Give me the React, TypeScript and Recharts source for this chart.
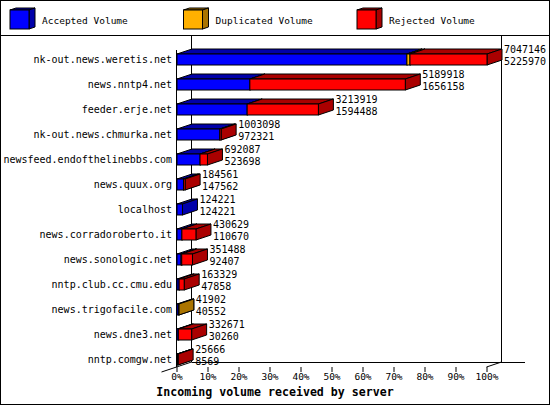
import { BarChart, Bar, XAxis, YAxis, Legend, LabelList } from "recharts";

const SERVERS = [
  "nk-out.news.weretis.net",
  "news.nntp4.net",
  "feeder.erje.net",
  "nk-out.news.chmurka.net",
  "newsfeed.endofthelinebbs.com",
  "news.quux.org",
  "localhost",
  "news.corradoroberto.it",
  "news.sonologic.net",
  "nntp.club.cc.cmu.edu",
  "news.trigofacile.com",
  "news.dne3.net",
  "nntp.comgw.net",
];
const TOTAL = [7047146, 5189918, 3213919, 1003098, 692087, 184561, 124221, 430629, 351488, 163329, 41902, 332671, 25666];
const ACCEPTED = [5225970, 1656158, 1594488, 972321, 523698, 147562, 124221, 110670, 92407, 47858, 40552, 30260, 8569];
const DUPLICATED = [70000, 0, 0, 0, 0, 0, 0, 0, 15000, 0, 1350, 0, 0];
const REJECTED = [1751176, 3533760, 1619431, 30777, 168389, 36999, 0, 319959, 244081, 115471, 0, 302411, 17097];

const TICK_PCTS = [0, 10, 20, 30, 40, 50, 60, 70, 80, 90, 100];
const SERIES = ["Accepted Volume", "Duplicated Volume", "Rejected Volume"];
const COLORS = ["#0000ff", "#ffb000", "#ff0000"];
const SHADES = ["#0000aa", "#aa7400", "#aa0000"];

const MONO = "'DejaVu Sans Mono', monospace";
const DX = 15;
const DY = 5;
const LEFT = 177;
const RIGHT = 487;
const BOTTOM = 372;

const rows = SERVERS.map((name, i) => ({
  name,
  total: TOTAL[i],
  accepted: ACCEPTED[i],
  duplicated: DUPLICATED[i],
  rejected: REJECTED[i],
}));
const MAX = Math.max(...TOTAL);
const TICK_VALUES = TICK_PCTS.map((p) => (p * MAX) / 100);

function Block3D(props: any) {
  const { x, y, width, height, fill } = props;
  if (!(width > 0) || !(height > 0)) return <g />;
  const shade = SHADES[COLORS.indexOf(fill)] ?? fill;
  const x2 = x + width;
  const top = `${x},${y} ${x2},${y} ${x2 + DX},${y - DY} ${x + DX},${y - DY}`;
  const side = `${x2},${y} ${x2 + DX},${y - DY} ${x2 + DX},${y + height - DY} ${x2},${y + height}`;
  return (
    <g stroke="#000" strokeWidth={1}>
      <polygon points={top} fill={shade} />
      <polygon points={side} fill={shade} />
      <rect x={x} y={y} width={width} height={height} fill={fill} />
    </g>
  );
}

function ValueLabels(props: any) {
  const { x, y, width, height, value } = props;
  let i = props.index;
  if (i == null) i = TOTAL.indexOf(value);
  const ex = x + width + DX + 2;
  const cy = y + height / 2;
  return (
    <g fontFamily={MONO} fontSize={10} fill="#000">
      <text x={ex} y={cy - 10} dominantBaseline="central">{TOTAL[i]}</text>
      <text x={ex} y={cy + 1.5} dominantBaseline="central">{ACCEPTED[i]}</text>
    </g>
  );
}

function XTick(props: any) {
  const { x, y, index } = props;
  return (
    <g>
      <line x1={x} x2={x} y1={y - 5} y2={y} stroke="#000" />
      <text x={x} y={y + 4} textAnchor="middle" dominantBaseline="central" fontFamily={MONO} fontSize={9.5} fill="#000">
        {TICK_PCTS[index]}%
      </text>
    </g>
  );
}

function LegendBoxes() {
  return (
    <svg width={550} height={36} style={{ display: "block" }}>
      {SERIES.map((s, i) => {
        const x = 10 + i * 173.5;
        const y = 10;
        const s0 = 19;
        return (
          <g key={s}>
            <polygon
              points={`${x},${y} ${x + s0},${y} ${x + s0 + 6},${y - 2} ${x + 6},${y - 2}`}
              fill={SHADES[i]} stroke="#000" />
            <polygon
              points={`${x + s0},${y} ${x + s0 + 6},${y - 2} ${x + s0 + 6},${y + s0 - 2} ${x + s0},${y + s0}`}
              fill={SHADES[i]} stroke="#000" />
            <rect x={x} y={y} width={s0} height={s0} fill={COLORS[i]} stroke="#000" />
            <text x={x + 32} y={20} dominantBaseline="central" fontFamily={MONO} fontSize={9.5} fill="#000">{s}</text>
          </g>
        );
      })}
    </svg>
  );
}

export default function App() {
  return (
    <div style={{ position: "absolute", left: 0, top: 0, width: 550, height: 405, background: "#fff" }}>
      <svg width={550} height={405} style={{ position: "absolute", left: 0, top: 0 }}>
        <rect x={0.5} y={0.5} width={549} height={404} fill="none" stroke="#000" />
        <line x1={0} x2={550} y1={35.5} y2={35.5} stroke="#000" />
        <g stroke="#000" strokeWidth={1}>
          <line x1={LEFT + DX - 0.5} x2={LEFT + DX - 0.5} y1={36} y2={362} />
          <line x1={RIGHT + DX - 0.5} x2={RIGHT + DX - 0.5} y1={36} y2={362} />
          <line x1={LEFT - 0.5} x2={LEFT - 0.5} y1={50} y2={367} />
          <line x1={LEFT + DX - 0.5} x2={525} y1={362.5} y2={362.5} />
          <line x1={LEFT - DX - 0.5} y1={372} x2={LEFT + DX - 0.5} y2={362} />
          <line x1={RIGHT - 0.5} y1={367} x2={RIGHT + DX - 0.5} y2={362} />
        </g>
        <text x={275} y={392} textAnchor="middle" dominantBaseline="central" fontFamily={MONO} fontWeight="bold" fontSize={11.6} fill="#000">
          Incoming volume received by server
        </text>
      </svg>
      <div style={{ position: "absolute", left: 0, top: 0 }}>
        <BarChart width={550} height={405} layout="vertical" data={rows}
          margin={{ top: 11, right: 550 - RIGHT, bottom: 0, left: 0 }}>
          <Legend verticalAlign="top" wrapperStyle={{ position: "absolute", left: 0, top: 0, width: 550, height: 36 }}
            content={() => <LegendBoxes />} />
          <XAxis type="number" domain={[0, MAX]} ticks={TICK_VALUES} interval={0} height={405 - BOTTOM}
            axisLine={false} tickLine={false} tickSize={0} tickMargin={0} tick={<XTick />} />
          <YAxis type="category" dataKey="name" width={LEFT} interval={0} axisLine={false} tickLine={false}
            tickSize={0} tickMargin={5} tick={{ fontSize: 10, fill: "#000", fontFamily: MONO }} />
          <Bar dataKey="accepted" stackId="v" name={SERIES[0]} fill={COLORS[0]} barSize={11} shape={<Block3D />} isAnimationActive={false} />
          <Bar dataKey="duplicated" stackId="v" name={SERIES[1]} fill={COLORS[1]} barSize={11} shape={<Block3D />} isAnimationActive={false} />
          <Bar dataKey="rejected" stackId="v" name={SERIES[2]} fill={COLORS[2]} barSize={11} shape={<Block3D />} isAnimationActive={false}>
            <LabelList dataKey="total" content={<ValueLabels />} />
          </Bar>
        </BarChart>
      </div>
    </div>
  );
}
